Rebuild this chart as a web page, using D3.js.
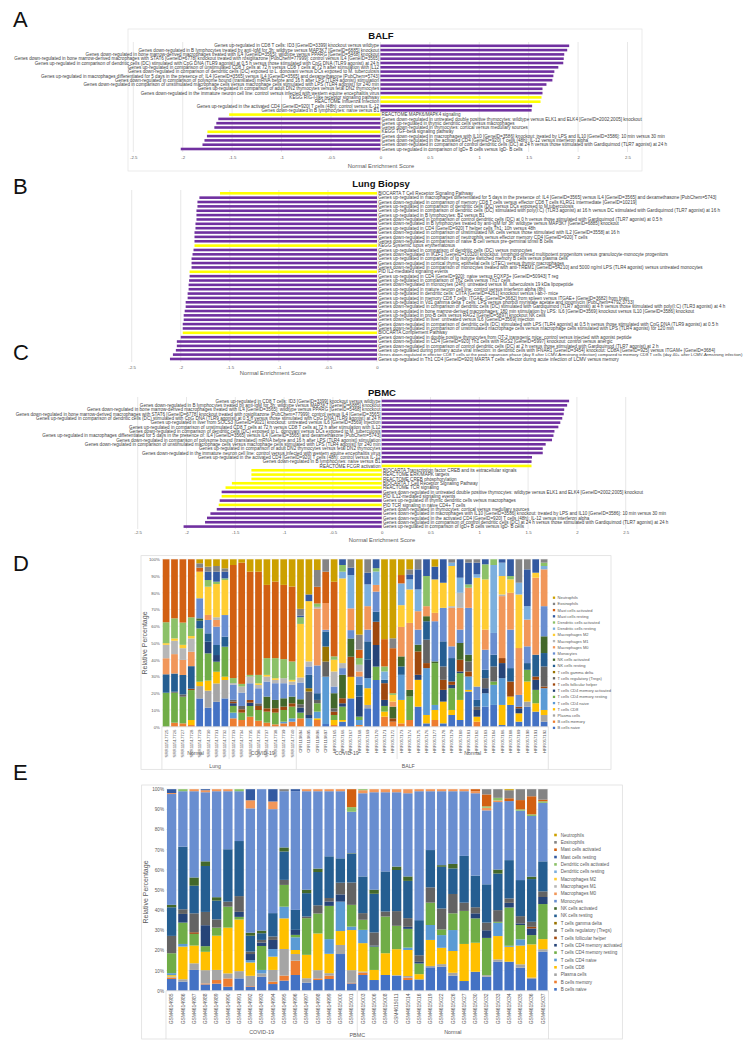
<!DOCTYPE html>
<html><head><meta charset="utf-8">
<script src="https://cdn.jsdelivr.net/npm/d3@7"></script>
<style>body{margin:0;background:#fff}svg{display:block}</style>
</head><body>
<svg id="c" width="747" height="1045"></svg>
<script>
// ---------------- DATA ----------------
const nesTicksFull = [-2.5,-2,-1.5,-1,-0.5,0,0.5,1,1.5,2,2.5];
const nesTicksNeg = [-2.5,-2,-1.5,-1,-0.5,0];

const aLabels = [
"Genes up-regulated in CD8 T cells: ID3 [GeneID=3399] knockout versus wildtype",
"Genes down-regulated in B lymphocytes treated by anti-IgM for 3h: wildtype versus MAP3K7 [GeneID=6885] knockout",
"Genes down-regulated in bone marrow-derived macrophages treated with IL4 [GeneID=3565]: wildtype versus PPARG [GeneID=5468] knockout",
"Genes down-regulated in bone marrow-derived macrophages with STAT6 [GeneID=6778] knockout treated with rosiglitazone [PubChem=77999]: control versus IL4 [GeneID=3565]",
"Genes up-regulated in comparison of dendritic cells (DC) stimulated with CpG DNA (TLR9 agonist) at 0.5 h versus those stimulated with CpG DNA (TLR9 agonist) at 24 h",
"Genes up-regulated in comparison of unstimulated CD8 T cells at 72 h versus CD8 T cells at 72 h after stimulation with IL12",
"Genes down-regulated in comparison of dendritic cells (DC) exposed to L. donovani versus DCs exposed to M. tuberculosis",
"Genes up-regulated in macrophages differentiated for 5 days in the presence of: IL4 [GeneID=3565] versus IL4 [GeneID=3565] and dexamethasone [PubChem=5743]",
"Genes down-regulated in comparison of polysome bound (translated) mRNA before and 16 h after LPS (TLR4 agonist) stimulation",
"Genes down-regulated in comparison of unstimulated macrophage cells versus macrophage cells stimulated with LPS (TLR4 agonist) for 240 min",
"Genes up-regulated in comparison of adult DN2 thymocytes versus fetal DN2 thymocytes",
"Genes down-regulated in the immature neuron cell line: control versus infected with western equine encephalitis virus",
"KEGG RIG-I-like receptor signaling pathway",
"REACTOME Influenza Infection",
"Genes up-regulated in the activated CD4 [GeneID=920] T cells (48h): control versus IL-12",
"Genes down-regulated in B lymphocytes: naive versus B1",
"REACTOME MAPK6/MAPK4 signaling",
"Genes down-regulated in untreated double positive thymocytes: wildtype versus ELK1 and ELK4 [GeneID=2002;2005] knockout",
"Genes up-regulated in thymic dendritic cells versus macrophages",
"Genes down-regulated in thymocytes: cortical versus medullary sources",
"KEGG TGF-beta signaling pathway",
"Genes down-regulated in macrophages with IL10 [GeneID=3586] knockout: treated by LPS and IL10 [GeneID=3586]: 10 min versus 30 min",
"Genes down-regulated in the activated CD4 [GeneID=920] T cells (48h): IL-12 versus interferon alpha",
"Genes down-regulated in comparison of control dendritic cells (DC) at 24 h versus those stimulated with Gardiquimod (TLR7 agonist) at 24 h",
"Genes up-regulated in comparison of IgD+ B cells versus IgD- B cells"];
const aValues = [1.91,1.89,1.86,1.855,1.85,1.80,1.76,1.75,1.74,1.68,1.64,1.64,1.63,1.62,1.535,1.53,-1.53,-1.64,-1.66,-1.68,-1.75,-1.755,-1.78,-1.80,-2.02];
const aPathway = [0,0,0,0,0,0,0,0,0,0,0,0,1,1,0,0,1,0,0,0,1,0,0,0,0];

const bLabels = [
"BIOCARTA T Cell Receptor Signaling Pathway",
"Genes up-regulated in macrophages differentiated for 5 days in the presence of: IL4 [GeneID=3565] versus IL4 [GeneID=3565] and dexamethasone [PubChem=5743]",
"Genes down-regulated in comparison of memory CD8 T cells versus effector CD8 T cells KLRG1 intermediate [GeneID=10219]",
"Genes up-regulated in comparison of dendritic cells (DC) versus DCs exposed to M.tuberculosis",
"Genes up-regulated in comparison of dendritic cells (DC) stimulated with poly(I:C) (TLR3 agonist) at 16 h versus DC stimulated with Gardiquimod (TLR7 agonist) at 16 h",
"Genes up-regulated in B lymphocytes: B2 versus B1",
"Genes down-regulated in comparison of control dendritic cells (DC) at 0 h versus those stimulated with Gardiquimod (TLR7 agonist) at 0.5 h",
"Genes down-regulated in B lymphocytes treated by anti-IgM for 3h: wildtype versus MAP3K7 [GeneID=6885] knockout",
"Genes up-regulated in CD4 [GeneID=920] T helper cells Th1: 10h versus 48h",
"Genes down-regulated in comparison of unstimulated NK cells versus those stimulated with IL2 [GeneID=3558] at 16 h",
"Genes down-regulated in comparison of neutrophils versus effector memory CD4 [GeneID=920] T cells",
"Genes down-regulated in comparison of naive B cell versus pre-germinal tonsil B cells",
"KEGG Systemic lupus erythematosus",
"Genes up-regulated in comparison of dendritic cells (DC) versus monocytes",
"Genes down-regulated in IKZF1 [GeneID=10320] knockout: lymphoid-primed multipotent progenitors versus granulocyte-monocyte progenitors",
"Genes up-regulated in comparison of Ig isotype switched memory B cells versus plasma cells",
"Genes down-regulated in cortical thymic epithelial cells (cTEC) versus thymic macrophages",
"Genes down-regulated in comparison of monocytes treated with anti-TREM1 [GeneID=54210] and 5000 ng/ml LPS (TLR4 agonist) versus untreated monocytes",
"PID IL2-mediated signaling events",
"Genes up-regulated in CD4 [GeneID=920]: naive versus FOXP3+ [GeneID=50943] T reg",
"Genes up-regulated in comparison of Th2 cells versus Th17 cells",
"Genes down-regulated in monocytes (24h): untreated versus M. tuberculosis 19 kDa lipopeptide",
"Genes up-regulated in mature neuron cell line: control versus interferon alpha (8h)",
"Genes up-regulated in dendritic cells: CIITA [GeneID=4261] knockout versus I-ab-/- mice",
"Genes up-regulated in memory CD8 T cells: ITGAE- [GeneID=3682] from spleen versus ITGAE+ [GeneID=3682] from brain",
"Genes up-regulated in Vd1 gamma delta T cells: LPS versus phorbol myristate acetate and ionomycin [PubChem=4792;3733]",
"Genes down-regulated in comparison of dendritic cells (DC) stimulated with Gardiquimod (TLR7 agonist) at 4 h versus those stimulated with poly(I:C) (TLR3 agonist) at 4 h",
"Genes up-regulated in bone marrow-derived macrophages: 180 min stimulation by LPS: IL6 [GeneID=3569] knockout versus IL10 [GeneID=3586] knockout",
"Genes up-regulated in pro-B cells versus RAG2 [GeneID=5897] knockout NK cells",
"Genes down-regulated in liver: untreated versus IL6 [GeneID=3569] injection",
"Genes down-regulated in comparison of dendritic cells (DC) stimulated with LPS (TLR4 agonist) at 0.5 h versus those stimulated with CpG DNA (TLR9 agonist) at 0.5 h",
"Genes down-regulated in comparison of unstimulated macrophage cells versus macrophage cells stimulated with LPS (TLR4 agonist) for 120 min",
"BIOCARTA Complement Pathway",
"Genes down-regulated in double positive thymocytes from OT-2 transgenic mice: control versus injected with agonist peptide",
"Genes down-regulated in CD4 [GeneID=920] Th1 cells with RGS2 [GeneID=5997] knockout: control versus anergic",
"Genes down-regulated in comparison of control dendritic cells (DC) at 2 h versus those stimulated with Gardiquimod (TLR7 agonist) at 2 h",
"Genes up-regulated during primary acute viral infection: in dendritic cells with IFNAR1 [GeneID=3454] knockout: CD8A [GeneID=925] versus ITGAM+ [GeneID=3684]",
"Genes down-regulated in effector CD8 T cells at the peak expansion phase (day 8 after LCMV-Armstrong infection) compared to memory CD8 T cells (day 40+ after LCMV-Armstrong infection)",
"Genes up-regulated in Th1 CD4 [GeneID=920] MARTA T cells: effector during acute infection of LCMV versus memory"];
const bValues = [-1.60,-1.81,-1.83,-1.83,-1.84,-1.84,-1.84,-1.85,-1.85,-1.86,-1.86,-1.86,-1.86,-1.87,-1.88,-1.89,-1.89,-1.89,-1.91,-1.91,-1.915,-1.92,-1.92,-1.93,-1.93,-1.95,-1.95,-1.96,-1.97,-1.97,-1.98,-1.98,-1.98,-2.00,-2.04,-2.04,-2.05,-2.08,-2.11];
const bPathway = [1,0,0,0,0,0,0,0,0,0,0,0,1,0,0,0,0,0,1,0,0,0,0,0,0,0,0,0,0,0,0,0,1,0,0,0,0,0,0];

const cLabels = [
"Genes up-regulated in CD8 T cells: ID3 [GeneID=3399] knockout versus wildtype",
"Genes down-regulated in B lymphocytes treated by anti-IgM for 3h: wildtype versus MAP3K7 [GeneID=6885] knockout",
"Genes down-regulated in bone marrow-derived macrophages treated with IL4 [GeneID=3565]: wildtype versus PPARG [GeneID=5468] knockout",
"Genes down-regulated in bone marrow-derived macrophages with STAT6 [GeneID=6778] knockout treated with rosiglitazone [PubChem=77999]: control versus IL4 [GeneID=3565]",
"Genes up-regulated in comparison of dendritic cells (DC) stimulated with CpG DNA (TLR9 agonist) at 0.5 h versus those stimulated with CpG DNA (TLR9 agonist) at 24 h",
"Genes up-regulated in liver from SOCS3 [GeneID=9021] knockout: untreated versus IL6 [GeneID=3569] injection",
"Genes up-regulated in comparison of unstimulated CD8 T cells at 72 h versus CD8 T cells at 72 h after stimulation with IL12",
"Genes down-regulated in comparison of dendritic cells (DC) exposed to L. donovani versus DCs exposed to M. tuberculosis",
"Genes up-regulated in macrophages differentiated for 5 days in the presence of: IL4 [GeneID=3565] versus IL4 [GeneID=3565] and dexamethasone [PubChem=5743]",
"Genes down-regulated in comparison of polysome bound (translated) mRNA before and 16 h after LPS (TLR4 agonist) stimulation",
"Genes down-regulated in comparison of unstimulated macrophage cells versus macrophage cells stimulated with LPS (TLR4 agonist) for 240 min",
"Genes up-regulated in comparison of adult DN2 thymocytes versus fetal DN2 thymocytes",
"Genes down-regulated in the immature neuron cell line: control versus infected with western equine encephalitis virus",
"Genes up-regulated in the activated CD4 [GeneID=920] T cells (48h): control versus IL-12",
"Genes down-regulated in B lymphocytes: naive versus B1",
"REACTOME FCGR activation",
"BIOCARTA Transcription factor CREB and its extracellular signals",
"REACTOME ERK/MAPK targets",
"REACTOME CREB phosphorylation",
"BIOCARTA T Cell Receptor Signaling Pathway",
"REACTOME TCR signaling",
"Genes down-regulated in untreated double positive thymocytes: wildtype versus ELK1 and ELK4 [GeneID=2002;2005] knockout",
"PID IL12-mediated signaling events",
"Genes up-regulated in thymic dendritic cells versus macrophages",
"PID TCR signaling in naive CD4+ T cells",
"Genes down-regulated in thymocytes: cortical versus medullary sources",
"Genes down-regulated in macrophages with IL10 [GeneID=3586] knockout: treated by LPS and IL10 [GeneID=3586]: 10 min versus 30 min",
"Genes down-regulated in the activated CD4 [GeneID=920] T cells (48h): IL-12 versus interferon alpha",
"Genes down-regulated in comparison of control dendritic cells (DC) at 24 h versus those stimulated with Gardiquimod (TLR7 agonist) at 24 h",
"Genes up-regulated in comparison of IgD+ B cells versus IgD- B cells"];
const cValues = [1.92,1.90,1.87,1.865,1.85,1.83,1.81,1.77,1.76,1.745,1.68,1.65,1.65,1.54,1.535,1.535,-1.335,-1.335,-1.335,-1.535,-1.60,-1.64,-1.64,-1.66,-1.67,-1.69,-1.755,-1.79,-1.81,-2.03];
const cPathway = [0,0,0,0,0,0,0,0,0,0,0,0,0,0,0,1,1,1,1,1,1,0,1,0,1,0,0,0,0,0];

// Cell types, bottom of stack first
const cellTypes = ["B cells naive","B cells memory","Plasma cells","T cells CD8","T cells CD4 naive","T cells CD4 memory resting","T cells CD4 memory activated","T cells follicular helper","T cells regulatory (Tregs)","T cells gamma delta","NK cells resting","NK cells activated","Monocytes","Macrophages M0","Macrophages M1","Macrophages M2","Dendritic cells resting","Dendritic cells activated","Mast cells resting","Mast cells activated","Eosinophils","Neutrophils"];
const cellColors = ["#4472C4","#ED7D31","#A5A5A5","#FFC000","#5B9BD5","#70AD47","#264478","#9E480E","#636363","#997300","#255E91","#43682B","#698ED0","#F1975A","#B7B7B7","#FFCD33","#7CAFDD","#8CC168","#335AA1","#D26012","#848484","#CCA000"];

// Panel D samples (percentages per cell type, same order as cellTypes)
const dSamples = ["SRR11517725","SRR11517726","SRR11517727","SRR11517728","SRR11517729","SRR11517730","SRR11517731","SRR11517732","SRR11517733","SRR11517734","SRR11517735","SRR11517736","SRR11517737","SRR11517738","SRR11517739","SRR11517740","CRR119894","CRR119895","CRR119896","CRR119897","HRR057165","HRR057166","HRR057167","HRR057168","HRR057169","HRR057170","HRR057171","HRR057172","HRR057173","HRR057174","HRR057175","HRR057176","HRR057177","HRR057178","HRR057179","HRR057180","HRR057181","HRR057182","HRR057183","HRR057184","HRR057186","HRR057188","HRR057189","HRR057190","HRR057191","HRR057192"];
const dLungNormal = [
[0,0,0,0,0,20.3,0,0,0,0,11,0,0,9.6,8,1,0,12.5,0,37.6,0,0],
[0,2.4,0,0,0,17.9,0,0,.6,0,10.9,0,0,11.6,8,1.4,0,12,0,35.3,0,0],
[0,2,0,0,0,15.9,0,0,1.4,0,11.6,0,0,9,7,2,0,13.3,0,37.8,0,0],
[0,1,0,3,0,17.9,0,.8,0,0,13.5,0,0,8.6,8,1.4,0,11.2,0,34.7,0,0],
[16.9,0,7.4,2.6,0,31.9,0,0,0,0,4.6,1.4,12,0,0,15.9,0,0,0,2.4,2.6,2.4],
[11.4,0,10.2,6,0,16.3,7,0,0,0,5,0,8,3,0,16.9,0,4,5,0,3,4.4],
[14.9,0,11,7,0,6,4,0,0,0,6,0,11,4,1.6,19.9,0,1.4,6,0,3.4,4],
[16.9,0,11,2,0,17.9,0,0,0,0,6,0,12.9,0,0,20.9,0,1,4,0,2,5.4]];
const dLungCovid = [
[0,5,0,0,3.4,4,1.6,1,1,0,0,0,9,0,1,0,0,3,0,67.4,0,3.4],
[0,4,0,0,0,4.4,0,2,2,0,0,0,8,0,3.6,0,0,1.6,0,72.5,0,2],
[0,6,0,0,0,6.4,2,1.6,0,0,0,0,10,0,4,0,0,1,0,61.8,0,7.4],
[0,3.6,0,0,0,6.4,0,2.4,1.6,0,0,0,9,0,2,1,0,5,0,61.8,0,7.4],
[0,2.4,0,0,0,6.6,0,2,0,0,0,7,9,0,3,1,0,10,0,43.8,0,15.3],
[0,1.4,0,0,0,7,0,2.6,0,0,0,5,10,0,2,1,0,12,0,45.8,0,13.3],
[0,2,0,0,1,7,0,2,0,0,0,5,9,0,3,0,0,11.4,0,44.4,0,15.3],
[0,3,0,0,2,7,0,2,0,0,0,4,7,0,2,1,0,11,0,44.8,0,16.3]];
const dBalfCovid = [
[0,5,0,0,0,3.4,3,0,2,0,0,3,10,0,3,32,0,4,1,0,4,29.6],
[0,0,0,0,5,0,2,0,14,2,8,0,5,0,3,36,0,0,4,0,0,21],
[0,4,0,1,4,5,0,0,2,0,4,0,16.6,34,1,0,0,2,0,10,10,6.4],
[1.6,0,0,0,28.3,0,0,0,9,9,9,0,1,16,0,0,0,0,0,18.7,7.4,0],
[0,1,0,3,0,3,0,2,2,0,0,9,4,0,9,7,0,2,0,44.6,0,13.4],
[3,0,0,1,0,8,2,3,0,0,0,14,4,0,3,50.6,4,4,3.4,0,0,0],
[16.9,0,0,12.9,0,0,0,12,0,0,0,10.9,5,13,0,0,19.9,0,4.4,0,5,0],
[0,1,0,0,3,2,12,0,0,0,7,0,5,3,4,0,0,4,0,5,9,45],
[11,0,2,10,6,0,11,0,0,0,11,0,7,14,0,0,13,0,7,0,8,0],
[27.9,0,0,0,0,8,12.9,13.9,0,0,6,0,12,4,0,0,8,2,5.3,0,0,0],
[0,6,0,3,0,3.4,3.6,10,0,0,2,0,0,0,0,0,5,3,0,16.3,0,47.7],
[0,3,0,0,0,0,0,2,0,0,0,7,0,3,0,4,0,1,0,26.9,5.9,47.2]];
const dBalfNormal = [
[0,2,0,14,15,0,0,0,0,0,5,6,0,17.6,0,13,13,0,0,5,0,9.4],
[0,4,0,0,0,14,0,0,0,0,0,4,0,40,0,20,6,0,3,0,3,6],
[12,0,0,16,0,0,3,14,0,0,0,4,9,11,0,0,13,0,12,0,6,0],
[2,0,0,5,28,0,0,3,14,0,11,3,0,6,0,0,0,18,10,0,0,0],
[0,4,0,6,3,25,0,0,0,0,0,1,24,5,0,20,0,0,7.6,0,0,4.4],
[2,0,0,13,0,0,7,6,8,0,15,0,20,0,0,15,0,0,14,0,0,0],
[7,0,0,3,0,13,2,2,0,0,14,0,7,23,1,24,2,0,0,0,2,0],
[4,0,0,12,0,16,1,7,0,0,0,10,8,13,9,0,9,0,11,0,0,0],
[21,0,0,1,8,0,0,3,6,0,0,4,28,12,0,0,0,2,13,0,2,0],
[0,3,0,3,0,0,4,0,2,0,4,0,8,0,0,65,2,0,7,0,2,0],
[12,0,0,0,8,0,3,0,6,0,5,0,12,12,0,30,0,9,3,0,0,0],
[13,0,0,0,12,2,0,0,9,0,7,0,13,0,0,0,40.6,3.4,0,0,0,0],
[1,0,0,12,16,0,9,3,0,0,0,0,0,37,1,11,8,0,2,0,0,0],
[13,0,0,5,0,0,0,9,0,0,8,0,23,22,0,8,0,2,10,0,0,0],
[3,0,0,5,0,0,3,1,0,0,0,0,7,28,0,32,7,0,0,0,14,0],
[12,0,3,12,0,7,0,0,0,0,4,0,10,16,0,0,8,0,22,0,6,0],
[9,0,0,5,0,8,6,2,0,0,13,0,0,46,0,3,0,0,8,0,0,0],
[3,0,4,3,13,0,0,1,12,0,8,10,18,22,0,0,2,2,0,0,2,0]];
const dInnerGroups = [["Normal",8],["COVID-19",8],["COVID-19",12],["Normal",18]];
const dOuterGroups = [["Lung",16],["BALF",30]];

// Panel E samples
const eSamples = ["GSM4614985","GSM4614986","GSM4614987","GSM4614988","GSM4614989","GSM4614990","GSM4614991","GSM4614992","GSM4614993","GSM4614994","GSM4614995","GSM4614996","GSM4614997","GSM4614998","GSM4614999","GSM4615000","GSM4615001","GSM4615003","GSM4615006","GSM4615008","GSM4615011","GSM4615014","GSM4615016","GSM4615019","GSM4615022","GSM4615026","GSM4615027","GSM4615030","GSM4615032","GSM4615033","GSM4615034","GSM4615035","GSM4615036","GSM4615037"];
const ePbmcCovid = [
[5.8,.7,.5,.7,1,9.9,0,0,8.6,0,14.2,1.2,55,.5,0,0,0,0,1.9,0,0,0],
[4.5,0,1.2,16.2,1.3,10.6,4.3,0,2.3,0,31.1,0,27.5,0,0,0,0,1,0,0,0,0],
[10.3,0,3.3,8.8,0,5.8,0,.8,9.4,0,13.7,4.1,42.8,1,0,0,0,0,0,0,0,0],
[3.1,.5,6.6,9.1,0,2.8,10.4,0,6.6,0,22.8,2.3,34.3,1,0,0,0,0,.5,0,0,0],
[3.5,1.8,5,17,0,4,0,0,4.1,0,9.3,1.7,52.6,1,0,0,0,0,0,0,0,0],
[2,4.1,2.5,22.7,0,10.4,0,0,2.5,0,26,0,28.8,1,0,0,0,0,0,0,0,0],
[6.1,0,3.6,25.6,0,1.3,2.5,0,7.8,0,27.3,0,24.7,0,0,0,0,1,0,0,0,0],
[2,.3,5.1,6.6,1.2,0,3,0,1.2,0,7.9,1.5,61.7,4,0,0,0,0,5.5,0,0,0],
[6.9,0,1.7,0,1.7,11.9,1.7,0,1.3,0,3.3,1.3,70.2,0,0,0,0,0,0,0,0,0],
[3.3,1.2,5.8,6.6,3.8,0,4.5,0,1.7,0,11.6,0,51.6,3.8,0,0,0,0,6.1,0,0,0],
[5,2.5,13.2,15.2,5.8,10.8,0,0,2.5,0,14.1,2,27.9,0,0,0,0,0,0,0,1,0],
[7.8,7.1,3.3,2,6.3,1.2,2.5,0,0,0,9.9,0,58.9,0,0,0,0,0,1,0,0,0],
[4,0,2.2,11.6,0,18.2,0,0,.8,0,11.6,1.7,48.9,1,0,0,0,0,0,0,0,0],
[5.3,.8,4.1,18.2,0,9.9,0,0,4.1,0,16.5,1.7,38.4,1,0,0,0,0,0,0,0,0],
[5.8,1.7,1.2,9.6,7.3,16.5,2.2,0,1.7,0,20.7,0,32.3,1,0,0,0,0,0,0,0,0],
[18.2,0,4.5,6.9,14.6,0,3.6,0,5.8,0,12.1,0,33.3,1,0,0,0,0,0,0,0,0],
[3.6,.3,6.3,19.9,1.7,10.8,0,0,11.1,0,14.2,.3,20.6,0,0,0,0,2.3,0,8.9,0,0]];
const ePbmcNormal = [
[7.8,1.2,.5,14.1,6.6,5,0,0,3.3,0,18.2,0,41.3,1.5,0,0,0,.5,0,0,0,0],
[5.3,0,0,5,0,11.6,.5,0,6.5,0,19.2,2,48.4,1.5,0,0,0,0,0,0,0,0],
[7.8,0,0,10.8,0,18.2,0,0,2.5,0,19.9,0,39.3,1.5,0,0,0,0,0,0,0,0],
[7.4,0,.3,12.9,0,11.6,0,0,7.3,0,20.4,1.7,36.9,1.5,0,0,0,0,0,0,0,0],
[5.3,1.2,.8,12.9,1.2,9.3,1,0,4.3,0,18.5,2.2,41.3,2,0,0,0,0,0,0,0,0],
[5.6,0,0,2.6,0,5.3,.8,0,3.3,0,17.4,0,64,1,0,0,0,0,0,0,0,0],
[11.6,0,.7,12.9,7.4,11.1,0,0,7.6,0,18.5,0,29.2,1,0,0,0,0,0,0,0,0],
[11.9,0,1.3,8.1,6.3,2.8,0,0,10.4,0,20.7,.8,36.7,1,0,0,0,0,0,0,0,0],
[7.4,0,1.5,10.8,10.4,8.3,0,0,9.6,0,12.7,2.2,36.1,1,0,0,0,0,0,0,0,0],
[4.8,0,0,18.4,0,16.4,0,0,4.1,0,23.2,0,32.1,1,0,0,0,0,0,0,0,0],
[9.4,0,0,14.4,0,12.1,2.5,0,3,0,15.7,0,40.9,1,0,0,0,0,0,1,0,0],
[6.9,0,.8,0,0,18.5,3.8,0,3.8,0,19,0,36.7,1.3,0,0,0,.7,0,5.9,2.6,0],
[14.4,0,1.2,11.6,6.6,.5,0,0,5.8,0,18.2,2,33.6,.8,0,0,0,1.3,0,0,4.3,0],
[14.4,0,0,7.4,.5,19,2.3,0,2.2,0,19,0,29.3,0,0,0,0,0,0,1.4,4,.5],
[11.4,0,1.7,9.3,3.1,7.1,.8,0,3.6,0,17.9,0,34.4,0,0,0,0,.7,0,4.6,5.4,0],
[5.8,0,.7,16.5,0,4.6,3.3,.8,2.5,0,21.2,1.2,30.1,0,0,0,0,.8,0,9,3.5,0],
[19.4,0,1.2,5,0,17.4,3.5,0,2.8,0,14.9,0,29,0,0,0,0,.8,0,.8,5.2,0]];
const eInnerGroups = [["COVID-19",17],["Normal",17]];
const eOuterGroups = [["PBMC",34]];
const pctTicks = [0,10,20,30,40,50,60,70,80,90,100];

// ---------------- DRAW ----------------
const FONT = "'Liberation Sans', Arial, sans-serif";
const PURPLE = "#7030A0", YELLOW = "#FFFF00", TXT = "#404040", AX = "#595959";
const svg = d3.select("#c").attr("font-family", FONT);
svg.append("rect").attr("width",747).attr("height",1045).attr("fill","#fff");

[["A",19],["B",186],["C",352],["D",563],["E",772]].forEach(([t,y])=>{
  svg.append("text").attr("x",13).attr("y",y+8).attr("font-size",22).attr("fill","#111").text(t);
});

function nesPanel(o){
  const g = svg.append("g");
  const x = d3.scaleLinear().domain(o.domain).range(o.range);
  const rowY = i => o.y0 + i*o.step;
  g.selectAll("line.grid").data(o.ticks).join("line")
    .attr("x1",d=>x(d)).attr("x2",d=>x(d)).attr("y1",o.gridTop).attr("y2",o.gridBottom)
    .attr("stroke","#d9d9d9").attr("stroke-width",0.6);
  g.selectAll("rect.bar").data(o.values).join("rect")
    .attr("x",d=>x(Math.min(0,d))).attr("width",d=>Math.abs(x(d)-x(0)))
    .attr("y",(d,i)=>rowY(i)-o.barH/2).attr("height",o.barH)
    .attr("fill",(d,i)=>o.pathway[i]?YELLOW:PURPLE);
  g.selectAll("text.lab").data(o.labels).join("text")
    .attr("x",(d,i)=>o.values[i]>=0 ? x(0)-1.2 : x(0)+1.2)
    .attr("y",(d,i)=>rowY(i)+1.6)
    .attr("text-anchor",(d,i)=>o.values[i]>=0?"end":"start")
    .attr("font-size",o.fs).attr("fill",TXT).text(d=>d)
    .each(function(d,i){
      if(o.values[i] < 0){
        const w = this.getComputedTextLength(), room = 742 - (x(0)+1.2);
        if(w > room){ d3.select(this).attr("font-size", (o.fs*room/w).toFixed(2)); }
      }
    });
  const ax = g.append("g").attr("transform",`translate(0,${o.tickY})`)
    .call(d3.axisBottom(x).tickValues(o.ticks).tickSize(0).tickPadding(0).tickFormat(d=>String(d)));
  ax.select(".domain").remove();
  ax.selectAll("text").attr("font-size",4.3).attr("fill",AX).attr("font-family",FONT).attr("dy","0.35em");
  g.append("text").attr("x",o.titleX).attr("y",o.titleY).attr("text-anchor","middle")
    .attr("font-size",9.5).attr("font-weight","bold").attr("fill","#111").text(o.title);
  g.append("text").attr("x",o.axTitleX).attr("y",o.axTitleY).attr("text-anchor","middle")
    .attr("font-size",5.8).attr("fill",AX).text("Normal Enrichment Score");
}

svg.append("rect").attr("x",128).attr("y",29).attr("width",514).attr("height",142)
  .attr("fill","none").attr("stroke","#e3e3e3").attr("stroke-width",0.7);

nesPanel({labels:aLabels,values:aValues,pathway:aPathway,domain:[-2.5,2.5],range:[133.3,627.5],
  ticks:nesTicksFull,y0:45.8,step:4.3,barH:2.6,fs:4.6,gridTop:42,gridBottom:152,tickY:157,
  title:"BALF",titleX:381,titleY:39,axTitleX:381,axTitleY:167.5});
nesPanel({labels:bLabels,values:bValues,pathway:bPathway,domain:[-2.5,0],range:[131.7,377],
  ticks:nesTicksNeg,y0:193.3,step:4.36,barH:2.6,fs:4.6,gridTop:190,gridBottom:362,tickY:367,
  title:"Lung Biopsy",titleX:381,titleY:187,axTitleX:273,axTitleY:375});
nesPanel({labels:cLabels,values:cValues,pathway:cPathway,domain:[-2.5,2.5],range:[137.7,625.7],
  ticks:nesTicksFull,y0:401,step:4.33,barH:2.6,fs:4.6,gridTop:397,gridBottom:529,tickY:532.5,
  title:"PBMC",titleX:382,titleY:396,axTitleX:382,axTitleY:542});

function stackPanel(o){
  const g = svg.append("g");
  g.append("rect").attr("x",o.frame[0]).attr("y",o.frame[1]).attr("width",o.frame[2]-o.frame[0])
    .attr("height",o.frame[3]-o.frame[1]).attr("fill","none").attr("stroke","#d9d9d9").attr("stroke-width",0.7);
  const rows = o.rows.map((r,i)=>{
    const s = d3.sum(r); const obj = {name:o.samples[i]};
    r.forEach((v,k)=>obj[k]=v/s*100); return obj; });
  const keys = d3.range(cellTypes.length);
  const series = d3.stack().keys(keys)(rows);
  const x = d3.scaleBand().domain(o.samples).range(o.xr).paddingInner(o.pad).paddingOuter(o.pad/2);
  const y = d3.scaleLinear().domain([0,100]).range(o.yr);
  g.selectAll("line.hg").data(pctTicks).join("line")
    .attr("x1",o.xr[0]).attr("x2",o.xr[1]).attr("y1",d=>y(d)).attr("y2",d=>y(d))
    .attr("stroke","#e6e6e6").attr("stroke-width",0.6);
  g.selectAll("g.s").data(series).join("g").attr("fill",(d,i)=>cellColors[i])
    .selectAll("rect").data(d=>d).join("rect")
    .attr("x",d=>x(d.data.name)).attr("width",x.bandwidth())
    .attr("y",d=>y(d[1])).attr("height",d=>Math.max(0,y(d[0])-y(d[1])));
  const ya = g.append("g").attr("transform",`translate(${o.xr[0]-0.5},0)`)
    .call(d3.axisLeft(y).tickValues(pctTicks).tickSize(0).tickPadding(1.5).tickFormat(d=>d+"%"));
  ya.select(".domain").remove();
  ya.selectAll("text").attr("font-size",o.tfs).attr("fill",AX).attr("font-family",FONT);
  g.selectAll("text.cat").data(o.samples).join("text")
    .attr("transform",d=>`translate(${x(d)+x.bandwidth()/2},${o.labY}) rotate(-90)`)
    .attr("text-anchor","end").attr("dy","0.35em").attr("font-size",o.lfs).attr("fill",AX).text(d=>d);
  const step = x.step(), start = x(o.samples[0]) - x.paddingInner()*step/2;
  const edge = k => start + k*step;
  let k=0; const innerB=[0];
  o.inner.forEach(([lab,n])=>{
    g.append("text").attr("x",(edge(k)+edge(k+n))/2).attr("y",o.innerY).attr("text-anchor","middle")
      .attr("font-size",o.gfs).attr("fill",AX).text(lab);
    k+=n; innerB.push(k); });
  k=0; const outerB=[0];
  o.outer.forEach(([lab,n])=>{
    g.append("text").attr("x",(edge(k)+edge(k+n))/2+(o.outerShift||0)).attr("y",o.outerY).attr("text-anchor","middle")
      .attr("font-size",o.gfs).attr("fill",AX).text(lab);
    k+=n; outerB.push(k); });
  innerB.forEach(b=>{ if(!outerB.includes(b)) g.append("line").attr("x1",edge(b)).attr("x2",edge(b))
      .attr("y1",o.yr[0]).attr("y2",o.innerSepY).attr("stroke","#d9d9d9").attr("stroke-width",0.7); });
  outerB.forEach(b=>g.append("line").attr("x1",edge(b)).attr("x2",edge(b))
      .attr("y1",o.yr[0]).attr("y2",o.frame[3]).attr("stroke","#d9d9d9").attr("stroke-width",0.7));
  g.append("line").attr("x1",o.xr[0]).attr("x2",o.xr[1]).attr("y1",o.yr[0]).attr("y2",o.yr[0])
    .attr("stroke","#d9d9d9").attr("stroke-width",0.7);
  g.append("text").attr("transform",`translate(${o.ytX},${o.ytY}) rotate(-90)`).attr("text-anchor","middle")
    .attr("font-size",7).attr("fill",AX).text("Relative Percentage");
  const leg = cellTypes.map((t,i)=>({t,c:cellColors[i]})).reverse();
  const lg = g.selectAll("g.leg").data(leg).join("g")
    .attr("transform",(d,i)=>`translate(${o.legX},${o.legY0+i*o.legStep})`);
  lg.append("rect").attr("x",-o.ms/2).attr("y",-o.ms/2).attr("width",o.ms).attr("height",o.ms).attr("fill",d=>d.c);
  lg.append("text").attr("x",o.legTx).attr("dy","0.35em").attr("font-size",o.legFs).attr("fill",AX).text(d=>d.t);
}

stackPanel({samples:dSamples,rows:[...dLungNormal,...dLungCovid,...dBalfCovid,...dBalfNormal],
  frame:[141,555.7,611,769.3],xr:[161.9,548.3],yr:[726.7,559.3],pad:0.2,tfs:4.3,lfs:4.3,labY:729.5,
  inner:dInnerGroups,outer:dOuterGroups,innerY:755,outerY:767.5,innerSepY:759,gfs:5.2,outerShift:-14,
  ytX:147,ytY:643,legX:554,legY0:597.7,legStep:6.2,ms:2.3,legTx:3.6,legFs:4.0});

stackPanel({samples:eSamples,rows:[...ePbmcCovid,...ePbmcNormal],
  frame:[141.7,785,622.3,1039],xr:[166,548.5],yr:[990.7,789.2],pad:0.17,tfs:4.6,lfs:5.0,labY:993.5,
  inner:eInnerGroups,outer:eOuterGroups,innerY:1034.3,outerY:1037.3,innerSepY:1033,gfs:5.4,
  ytX:148,ytY:892,legX:555.5,legY0:835,legStep:7.35,ms:2.6,legTx:5.2,legFs:4.6});
</script>
</body></html>
